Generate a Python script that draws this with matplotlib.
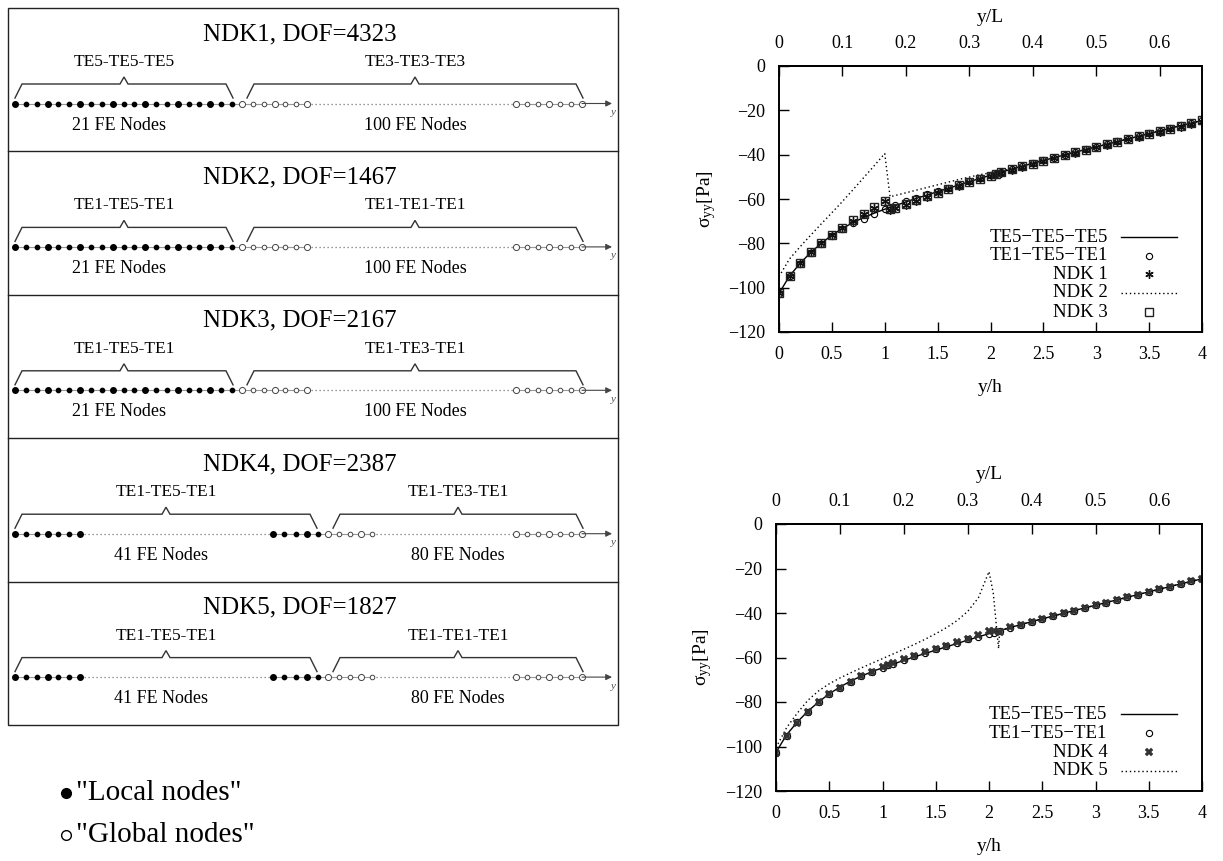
# -*- coding: utf-8 -*-
"""NDK kinematics sketch + sigma_yy along y/h for the two node-dependent models."""
import matplotlib
matplotlib.use('Agg')
import matplotlib.pyplot as plt
from matplotlib.patches import Rectangle

plt.rcParams['font.family'] = ['Liberation Serif', 'DejaVu Serif']
plt.rcParams['mathtext.fontset'] = 'stix'

# ------------------------------------------------------------
# schematic text
# ------------------------------------------------------------
titles = ['NDK1, DOF=4323', 'NDK2, DOF=1467', 'NDK3, DOF=2167',
          'NDK4, DOF=2387', 'NDK5, DOF=1827']
local_kin = ['TE5-TE5-TE5', 'TE1-TE5-TE1', 'TE1-TE5-TE1', 'TE1-TE5-TE1', 'TE1-TE5-TE1']
global_kin = ['TE3-TE3-TE3', 'TE1-TE1-TE1', 'TE1-TE3-TE1', 'TE1-TE3-TE1', 'TE1-TE1-TE1']
local_nodes = [21, 21, 21, 41, 41]
global_nodes = [100, 100, 100, 80, 80]

# ------------------------------------------------------------
# stress data, sigma_yy [Pa] vs y/h
# ------------------------------------------------------------
x_ref = [0.0, 0.1, 0.2, 0.3, 0.4, 0.5, 0.6, 0.7, 0.8, 0.9, 1.0, 1.05,
         1.1, 1.2, 1.3, 1.4, 1.5, 1.6, 1.7, 1.8, 1.9, 2.0, 2.05,
         2.1, 2.2, 2.3, 2.4, 2.5, 2.6, 2.7, 2.8, 2.9, 3.0,
         3.1, 3.2, 3.3, 3.4, 3.5, 3.6, 3.7, 3.8, 3.9, 4.0]

te5 = [-102.6, -94.7, -89.0, -84.1, -80.0, -76.3, -73.3, -70.6, -68.4, -66.4, -64.6, -63.8,
       -63.0, -61.3, -59.7, -58.2, -56.7, -55.2, -53.7, -52.2, -50.7, -49.3, -48.6,
       -47.9, -46.5, -45.2, -43.9, -42.6, -41.4, -40.1, -38.9, -37.7, -36.5,
       -35.3, -34.1, -32.9, -31.7, -30.5, -29.3, -28.1, -26.9, -25.8, -24.6]

# top plot
te1_a = [-102.8, -94.8, -89.1, -84.2, -80.1, -76.5, -73.6, -71.0, -68.8, -66.6, -64.6, -63.6,
         -62.8, -60.7, -59.4, -57.9, -56.5, -55.0, -53.6, -52.1, -50.6, -49.2, -48.5,
         -47.8, -46.4, -45.1, -43.8, -42.5, -41.3, -40.0, -38.8, -37.6, -36.4,
         -35.2, -34.0, -32.8, -31.6, -30.4, -29.2, -28.0, -26.8, -25.6, -24.5]

ndk1 = [-102.6, -94.7, -89.0, -84.1, -80.0, -76.3, -73.3, -69.8, -66.9, -63.9, -60.9, -65.0,
        -64.2, -62.5, -60.9, -59.0, -57.3, -55.7, -54.0, -52.5, -51.0, -49.5, -48.9,
        -48.2, -46.7, -45.4, -44.1, -42.8, -41.6, -40.3, -39.1, -37.9, -36.7,
        -35.5, -34.3, -33.1, -31.9, -30.8, -29.6, -28.5, -27.3, -26.2, -25.1]

ndk2 = [-95.0, -87.0, -81.5, -76.3, -71.2, -66.2, -61.1, -55.8, -50.4, -45.0, -39.5, -59.0,
        -58.4, -57.2, -56.0, -54.8, -53.6, -52.4, -51.2, -50.1, -49.0, -48.2, -47.8,
        -47.5, -46.3, -45.0, -43.8, -42.5, -41.3, -40.0, -38.8, -37.6, -36.4,
        -35.2, -34.0, -32.8, -31.6, -30.4, -29.2, -28.0, -26.8, -25.7, -24.5]

ndk3 = [-102.5, -94.6, -88.9, -84.0, -79.9, -76.2, -73.1, -69.6, -66.6, -63.6, -60.8, -64.6,
        -63.9, -62.2, -60.6, -58.8, -57.1, -55.5, -53.9, -52.4, -50.9, -49.4, -48.7,
        -48.0, -46.6, -45.3, -44.0, -42.7, -41.5, -40.2, -39.0, -37.8, -36.6,
        -35.4, -34.2, -33.0, -31.8, -30.6, -29.4, -28.2, -27.0, -25.8, -24.4]

# bottom plot
te1_b = [-102.8, -95.1, -89.2, -84.3, -80.1, -76.5, -73.5, -70.8, -68.5, -66.5, -64.5, -63.5,
         -62.7, -60.9, -59.3, -57.8, -56.3, -54.8, -53.3, -51.9, -50.9, -49.5, -48.9,
         -48.2, -46.6, -45.3, -44.0, -42.7, -41.4, -40.2, -38.9, -37.7, -36.5,
         -35.3, -34.1, -32.9, -31.7, -30.5, -29.3, -28.1, -26.9, -25.7, -24.5]

ndk4 = [-102.8, -95.2, -89.3, -84.3, -80.1, -76.5, -73.5, -70.9, -68.5, -66.5, -64.4, -63.5,
        -62.6, -60.8, -59.3, -57.7, -56.2, -54.7, -53.2, -51.8, -49.7, -48.0, -48.3,
        -48.6, -46.5, -45.2, -43.9, -42.6, -41.4, -40.1, -38.9, -37.7, -36.5,
        -35.3, -34.1, -32.9, -31.7, -30.5, -29.3, -28.1, -26.9, -25.8, -24.6]

x_ndk5 = [0.0, 0.1, 0.2, 0.3, 0.4, 0.5, 0.6, 0.7, 0.8, 0.9, 1.0,
          1.1, 1.2, 1.3, 1.4, 1.5, 1.6, 1.7, 1.8, 1.9, 2.0, 2.04, 2.09,
          2.1, 2.2, 2.3, 2.4, 2.5, 2.6, 2.7, 2.8, 2.9, 3.0,
          3.1, 3.2, 3.3, 3.4, 3.5, 3.6, 3.7, 3.8, 3.9, 4.0]
ndk5 = [-100.5, -91.5, -85.0, -79.2, -75.0, -71.8, -69.2, -66.9, -64.7, -62.6, -60.5,
        -58.4, -56.3, -54.1, -51.8, -49.3, -46.6, -43.4, -39.3, -33.2, -21.4, -31.0, -56.0,
        -48.3, -46.5, -45.2, -43.9, -42.6, -41.4, -40.1, -38.9, -37.7, -36.5,
        -35.3, -34.1, -32.9, -31.7, -30.5, -29.3, -28.1, -26.9, -25.8, -24.6]

xticks = [0, 0.5, 1, 1.5, 2, 2.5, 3, 3.5, 4]
xticklabels = ['0', '0.5', '1', '1.5', '2', '2.5', '3', '3.5', '4']
yLticks = [0, 0.1, 0.2, 0.3, 0.4, 0.5, 0.6]
yLticklabels = ['0', '0.1', '0.2', '0.3', '0.4', '0.5', '0.6']
L_over_h = 6.0

W, H = 1223, 861
fig = plt.figure(figsize=(W / 100, H / 100), dpi=100)

# ============================================================
# left: node-dependent kinematics sketch (pixel coords)
# ============================================================
ax0 = fig.add_axes([0, 0, 1, 1])
ax0.set_xlim(0, W)
ax0.set_ylim(H, 0)
ax0.axis('off')

box_l, box_r, box_t, box_b = 8, 618, 8, 725
row_h = (box_b - box_t) / 5
ax0.add_patch(Rectangle((box_l, box_t), box_r - box_l, box_b - box_t,
                        fill=False, lw=1.0, ec='#222222'))


def brace(x0, x1, yb, yt, ypk):
    xc = (x0 + x1) / 2
    ax0.plot([x0, x0 + 7, xc - 4, xc, xc + 4, x1 - 7, x1],
             [yb, yt, yt, ypk, yt, yt, yb], color='#333333', lw=1.0,
             solid_joinstyle='miter')
    return xc


def nodes(x0, x1, n, y, filled, big_every=3):
    step = (x1 - x0) / (n - 1)
    for i in range(n):
        xi = x0 + i * step
        big = (i % big_every == 0)
        if filled:
            ax0.plot(xi, y, 'o', color='black', ms=4.0 if big else 3.1, zorder=3)
        else:
            ax0.plot(xi, y, 'o', mfc='white', mec='#444444', mew=0.7,
                     ms=4.4 if big else 3.3, zorder=3)


for r in range(5):
    T = box_t + r * row_h
    if r > 0:
        ax0.plot([box_l, box_r], [T, T], color='#222222', lw=1.0)
    yl = T + 95.5
    ax0.text(300, T + 26, titles[r], fontsize=18, ha='center', va='center')

    if local_nodes[r] == 21:
        lb = (15, 233)
        rb = (247, 583)
        segs_solid = [(15, 307), (516, 582)]
        segs_dot = [(307, 516)]
        nodes(15, 232, 21, yl, True)
        nodes(242, 307, 7, yl, False)
        nodes(516, 582, 7, yl, False)
    else:
        lb = (15, 317)
        rb = (333, 583)
        segs_solid = [(15, 80), (273, 372), (516, 582)]
        segs_dot = [(80, 273), (372, 516)]
        nodes(15, 80, 7, yl, True)
        nodes(273, 318, 5, yl, True)
        nodes(328, 372, 5, yl, False)
        nodes(516, 582, 7, yl, False)

    for a, b in segs_solid:
        ax0.plot([a, b], [yl, yl], color='#999999', lw=0.8, zorder=1)
    for a, b in segs_dot:
        ax0.plot([a, b], [yl, yl], color='#777777', lw=0.9, ls=(0, (1, 2.2)), zorder=1)
    ax0.annotate('', xy=(612, yl), xytext=(582, yl),
                 arrowprops=dict(arrowstyle='-|>', color='#444444', lw=0.8,
                                 mutation_scale=9, shrinkA=0, shrinkB=0))
    ax0.text(613, yl + 9, 'y', fontsize=8, style='italic', color='#555555',
             ha='center', va='center')

    cl = brace(lb[0], lb[1], T + 90, T + 76, T + 69)
    cr = brace(rb[0], rb[1], T + 90, T + 76, T + 69)
    ax0.text(cl, T + 54, local_kin[r], fontsize=12.5, ha='center', va='center')
    ax0.text(cr, T + 54, global_kin[r], fontsize=12.5, ha='center', va='center')
    ax0.text(cl - 5, T + 117, f'{local_nodes[r]} FE Nodes', fontsize=13,
             ha='center', va='center')
    ax0.text(cr, T + 117, f'{global_nodes[r]} FE Nodes', fontsize=13,
             ha='center', va='center')

# node legend
ax0.plot(66, 793, 'o', color='black', ms=7)
ax0.text(76, 793, '"Local nodes"', fontsize=21, va='center', ha='left')
ax0.plot(66, 835, 'o', mfc='white', mec='black', mew=1.0, ms=7)
ax0.text(76, 835, '"Global nodes"', fontsize=21, va='center', ha='left')


# ============================================================
# right: sigma_yy plots
# ============================================================
def px_axes(l, t, r, b):
    return fig.add_axes([l / W, 1 - b / H, (r - l) / W, (b - t) / H])


def style_axes(ax):
    ax.set_xlim(0, 4)
    ax.set_ylim(-120, 0)
    ax.set_xticks(xticks)
    ax.set_xticklabels(xticklabels)
    ax.set_yticks(range(-120, 1, 20))
    ax.tick_params(direction='in', length=7, width=1, labelsize=13, pad=10,
                   top=False, right=False)
    for s in ax.spines.values():
        s.set_linewidth(1.4)
    sec = ax.secondary_xaxis('top', functions=(lambda v: v / L_over_h,
                                               lambda v: v * L_over_h))
    sec.set_xticks(yLticks)
    sec.set_xticklabels(yLticklabels)
    sec.tick_params(direction='in', length=7, width=1, labelsize=13, pad=10)
    sec.spines['top'].set_linewidth(1.4)
    ax.text(0.5, 1.184, 'y/L', transform=ax.transAxes, fontsize=14,
            ha='center', va='center')
    ax.text(0.5, -0.207, 'y/h', transform=ax.transAxes, fontsize=14,
            ha='center', va='center')
    ax.text(-0.172, 0.5, r'$\mathregular{\sigma_{yy}}$[Pa]', transform=ax.transAxes,
            fontsize=14, rotation=90, ha='center', va='center')


def key(ax, y, label, **kw):
    ax.text(0.778, y, label.replace('-', '\u2212'), transform=ax.transAxes,
            fontsize=13.5, ha='right', va='center')
    if kw.get('ls', 'None') != 'None':
        ax.plot([0.809, 0.941], [y, y], transform=ax.transAxes, clip_on=False, **kw)
    else:
        ax.plot([0.875], [y], transform=ax.transAxes, clip_on=False, **kw)


solid = dict(color='black', lw=1.0, ls='-')
dotted = dict(color='black', lw=1.0, ls=(0, (1, 2)))
circ = dict(ls='None', marker='o', ms=4.5, mfc='none', mec='black', mew=0.8)
star = dict(ls='None', marker=(6, 2, 0), ms=6, color='#111111', mew=1.0)
sq = dict(ls='None', marker='s', ms=5.5, mfc='none', mec='#222222', mew=1.0)
xsq = dict(ls='None', marker='X', ms=6, color='#333333', mew=0.3)

# top
ax1 = px_axes(779, 66, 1202, 332)
style_axes(ax1)
ax1.plot(x_ref, te5, **solid)
ax1.plot(x_ref, ndk2, **dotted)
ax1.plot(x_ref, te1_a, **circ)
ax1.plot(x_ref, ndk1, **star)
ax1.plot(x_ref, ndk3, **sq)
key(ax1, 0.357, 'TE5-TE5-TE5', **solid)
key(ax1, 0.286, 'TE1-TE5-TE1', **circ)
key(ax1, 0.218, 'NDK 1', **star)
key(ax1, 0.147, 'NDK 2', **dotted)
key(ax1, 0.075, 'NDK 3', **sq)

# bottom
ax2 = px_axes(776, 524, 1202, 791)
style_axes(ax2)
ax2.plot(x_ref, te5, **solid)
ax2.plot(x_ndk5, ndk5, **dotted)
ax2.plot(x_ref, te1_b, **circ)
ax2.plot(x_ref, ndk4, **xsq)
key(ax2, 0.288, 'TE5-TE5-TE5', **solid)
key(ax2, 0.217, 'TE1-TE5-TE1', **circ)
key(ax2, 0.146, 'NDK 4', **xsq)
key(ax2, 0.075, 'NDK 5', **dotted)

plt.savefig('out.png', dpi=100, facecolor='white')
plt.close()
